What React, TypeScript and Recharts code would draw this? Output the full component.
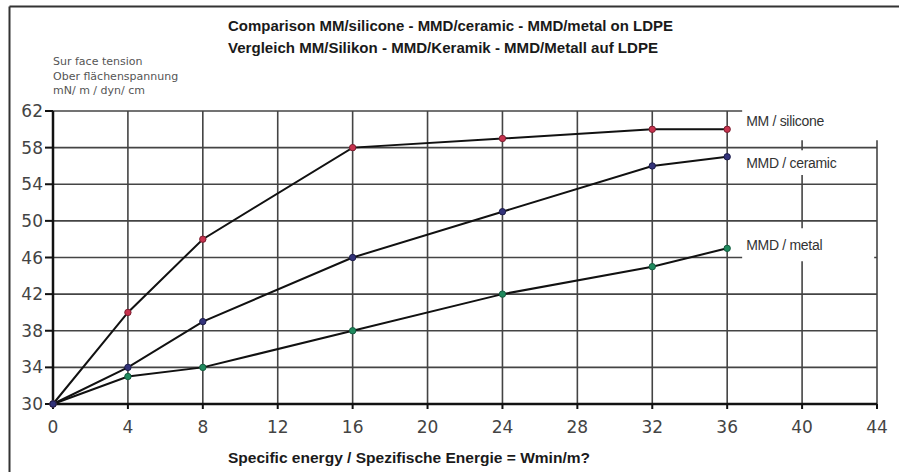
import React from 'react';
import { LineChart, Line, XAxis, YAxis, CartesianGrid, ReferenceArea, Label } from 'recharts';

const energy = [0, 4, 8, 16, 24, 32, 36];
const silicone = [30, 40, 48, 58, 59, 60, 60];
const ceramic = [30, 34, 39, 46, 51, 56, 57];
const metal = [30, 33, 34, 38, 42, 45, 47];
const xTicks = [0, 4, 8, 12, 16, 20, 24, 28, 32, 36, 40, 44];
const yTicks = [30, 34, 38, 42, 46, 50, 54, 58, 62];
const seriesNames = ['MM / silicone', 'MMD / ceramic', 'MMD / metal'];

const data = energy.map((e, i) => ({ e, silicone: silicone[i], ceramic: ceramic[i], metal: metal[i] }));

const tickStyle = { fontFamily: 'DejaVu Sans', fontSize: 17, fill: '#444' };
const labelFont = 'Liberation Sans, Arial, sans-serif';

export default function App() {
  return (
    <div style={{ position: 'absolute', left: 0, top: 0, width: 899, height: 472, background: '#fff', overflow: 'hidden' }}>
      <LineChart width={899} height={472} data={data} margin={{ top: 111, right: 22, bottom: 38, left: 8 }}>
        <CartesianGrid stroke="#444" strokeWidth={1.6} />
        <XAxis
          dataKey="e"
          type="number"
          domain={[0, 44]}
          ticks={xTicks}
          interval={0}
          height={30}
          tickSize={5}
          tickMargin={12}
          tick={tickStyle}
          axisLine={{ stroke: '#111', strokeWidth: 2.5 }}
          tickLine={{ stroke: '#111', strokeWidth: 2 }}
        />
        <YAxis
          type="number"
          domain={[30, 62]}
          ticks={yTicks}
          interval={0}
          width={45}
          tickSize={8}
          tickMargin={2}
          tick={tickStyle}
          axisLine={{ stroke: '#111', strokeWidth: 2.5 }}
          tickLine={{ stroke: '#111', strokeWidth: 2 }}
        />
        <ReferenceArea x1={36.8} x2={45} y1={58.8} y2={63} fill="#fff" fillOpacity={1} stroke="none" ifOverflow="visible">
          <Label value={seriesNames[0]} position="insideLeft" offset={4} fill="#333" fontSize={14} fontFamily={labelFont} letterSpacing={-0.3} />
        </ReferenceArea>
        <ReferenceArea x1={36.8} x2={43.85} y1={55.0} y2={57.7} fill="#fff" fillOpacity={1} stroke="none" ifOverflow="visible">
          <Label value={seriesNames[1]} position="insideLeft" offset={4} fill="#333" fontSize={14} fontFamily={labelFont} letterSpacing={-0.3} />
        </ReferenceArea>
        <ReferenceArea x1={36.8} x2={43.85} y1={45.6} y2={49.2} fill="#fff" fillOpacity={1} stroke="none" ifOverflow="visible">
          <Label value={seriesNames[2]} position="insideLeft" offset={4} fill="#333" fontSize={14} fontFamily={labelFont} letterSpacing={-0.3} />
        </ReferenceArea>
        <Line dataKey="metal" stroke="#111" strokeWidth={2} isAnimationActive={false}
          dot={{ r: 3.2, fill: '#1f8a5e', stroke: '#145c40', strokeWidth: 1 }} />
        <Line dataKey="silicone" stroke="#111" strokeWidth={2} isAnimationActive={false}
          dot={{ r: 3.2, fill: '#c8324e', stroke: '#7a1f30', strokeWidth: 1 }} />
        <Line dataKey="ceramic" stroke="#111" strokeWidth={2} isAnimationActive={false}
          dot={{ r: 3.2, fill: '#33337a', stroke: '#1c1c4a', strokeWidth: 1 }} />
      </LineChart>
      <svg width={899} height={472} style={{ position: 'absolute', left: 0, top: 0, pointerEvents: 'none' }}>
        <line x1={9.5} y1={6.5} x2={899} y2={6.5} stroke="#333" strokeWidth={2} />
        <line x1={9.5} y1={6.5} x2={9.5} y2={472} stroke="#333" strokeWidth={2} />
        <text x={228} y={31} fontFamily={labelFont} fontWeight="bold" fontSize={15} fill="#1a1a1a" textLength={445} lengthAdjust="spacingAndGlyphs">
          Comparison MM/silicone - MMD/ceramic - MMD/metal on LDPE
        </text>
        <text x={228} y={53} fontFamily={labelFont} fontWeight="bold" fontSize={15} fill="#1a1a1a" textLength={430} lengthAdjust="spacingAndGlyphs">
          Vergleich MM/Silikon - MMD/Keramik - MMD/Metall auf LDPE
        </text>
        <text x={53} y={65} fontFamily="DejaVu Sans" fontSize={11} fill="#555">Sur face tension</text>
        <text x={53} y={80} fontFamily="DejaVu Sans" fontSize={11} fill="#555">Ober flächenspannung</text>
        <text x={53} y={94} fontFamily="DejaVu Sans" fontSize={11} fill="#555">mN/ m / dyn/ cm</text>
        <text x={228} y={463} fontFamily={labelFont} fontWeight="bold" fontSize={14} fill="#1a1a1a" textLength={362} lengthAdjust="spacingAndGlyphs">
          Specific energy / Spezifische Energie = Wmin/m?
        </text>
      </svg>
    </div>
  );
}
